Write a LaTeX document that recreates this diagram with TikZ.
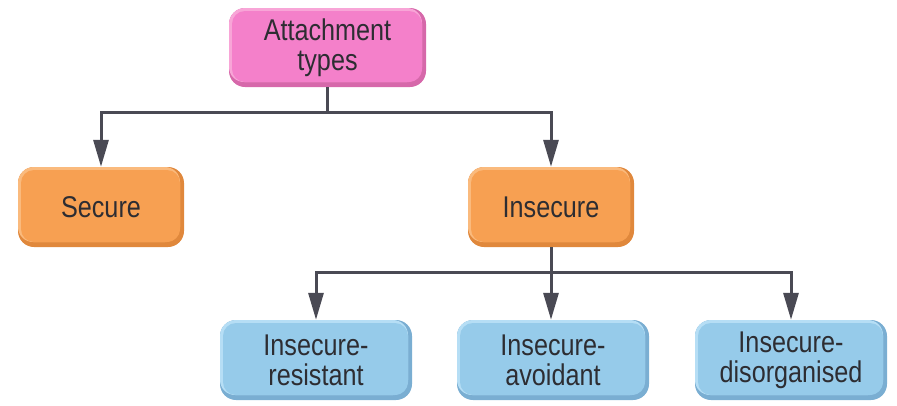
\documentclass[tikz,border=0pt]{standalone}
\usepackage{fontspec}
\setmainfont{Liberation Sans}[FakeStretch=0.84]
\usetikzlibrary{arrows.meta,calc}
\definecolor{pinkM}{RGB}{244,128,202}
\definecolor{pinkL}{RGB}{248,165,215}
\definecolor{pinkD}{RGB}{214,104,170}
\definecolor{oraM}{RGB}{247,160,82}
\definecolor{oraL}{RGB}{250,186,125}
\definecolor{oraD}{RGB}{224,136,60}
\definecolor{bluM}{RGB}{150,203,234}
\definecolor{bluL}{RGB}{182,222,245}
\definecolor{bluD}{RGB}{122,174,210}
\definecolor{lineC}{RGB}{74,74,84}
\definecolor{txtC}{RGB}{45,45,50}
\tikzset{
  bev/.style n args={3}{
    rounded corners=16pt, fill=#3, minimum width=#1, minimum height=#2,
    inner sep=0pt, align=center, text=txtC,
    font=\fontsize{30}{30}\selectfont,
  },
  bevfill/.style n args={3}{
    path picture={
      \fill[#2, rounded corners=15pt] (path picture bounding box.north west) rectangle ($(path picture bounding box.south east)+(-4,-5)$);
      \fill[#1, rounded corners=13pt] ($(path picture bounding box.north west)+(3,3)$) rectangle ($(path picture bounding box.south east)+(-4,-5)$);
    }
  },
  pinkbox/.style={bev={197}{79}{pinkD}, bevfill={pinkM}{pinkL}{pinkD}},
  orabox/.style={bev={166}{80}{oraD}, bevfill={oraM}{oraL}{oraD}},
  blubox/.style={bev={192}{80}{bluD}, bevfill={bluM}{bluL}{bluD}},
  conn/.style={draw=lineC, line width=3pt},
  arr/.style={conn, -{Triangle[width=15pt,length=27pt]}},
}
\begin{document}
\begin{tikzpicture}[x=1pt,y=-1pt]
\useasboundingbox (0,0) rectangle (897,405);
\node[pinkbox] (att) at (327.5,47.5) {Attachment\\types};
\node[orabox] (sec) at (101,207) {Secure};
\node[orabox] (ins) at (551,207) {Insecure};
\node[blubox] (res) at (316,360) {Insecure-\\resistant};
\node[blubox] (avo) at (553,360) {Insecure-\\avoidant};
\node[blubox] (dis) at (791,360) {Insecure-\\disorganised};
\coordinate (j1) at (327.5,112);
\coordinate (j2) at (551,272);
\draw[conn] (att.south) -- (j1);
\draw[arr] (j1) -| (sec.north);
\draw[arr] (j1) -| (ins.north);
\draw[conn] (ins.south) -- (j2);
\draw[arr] (j2) -| (res.north);
\draw[arr] (j2) -- (avo.north -| j2);
\draw[arr] (j2) -| (dis.north);
\end{tikzpicture}
\end{document}
